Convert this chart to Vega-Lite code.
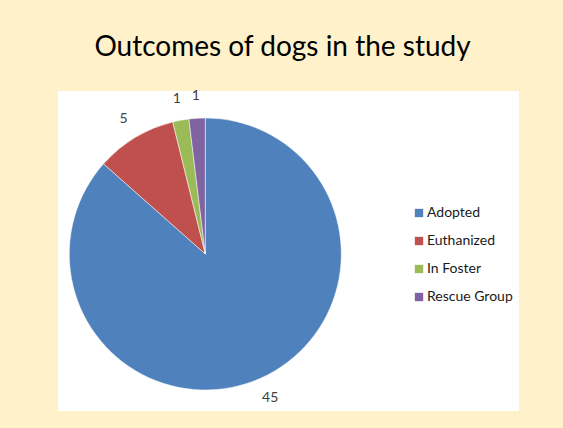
{
  "$schema": "https://vega.github.io/schema/vega-lite/v6.json",
  "width": 461,
  "height": 320,
  "autosize": "none",
  "padding": {"left": 58, "top": 91, "right": 44, "bottom": 17},
  "background": "#FFF1C9",
  "view": {"fill": "#ffffff", "stroke": null},
  "title": {
    "text": "Outcomes of dogs in the study",
    "font": "Lato",
    "fontSize": 28,
    "fontWeight": "normal",
    "color": "#000000",
    "anchor": "middle",
    "frame": "group",
    "offset": 27,
    "dx": -6
  },
  "data": {
    "values": [
      {"outcome": "Adopted", "count": 45},
      {"outcome": "Euthanized", "count": 5},
      {"outcome": "In Foster", "count": 1},
      {"outcome": "Rescue Group", "count": 1}
    ]
  },
  "encoding": {
    "theta": {"field": "count", "type": "quantitative", "stack": true},
    "order": {"field": "outcome", "type": "nominal", "sort": "ascending"}
  },
  "layer": [
    {
      "mark": {"type": "arc", "outerRadius": 136, "x": {"expr": "width * 0.3195"}, "y": {"expr": "height * 0.5 + 3"}, "stroke": "#ffffff", "strokeWidth": 0.5},
      "encoding": {
        "color": {
          "field": "outcome",
          "type": "nominal",
          "scale": {
            "domain": ["Adopted", "Euthanized", "In Foster", "Rescue Group"],
            "range": ["#4F81BD", "#C0504D", "#9BBB59", "#8064A2"]
          },
          "legend": {
            "title": null,
            "orient": "none",
            "legendX": 354,
            "legendY": 115,
            "symbolType": "square",
            "symbolSize": 70,
            "symbolStrokeWidth": 0,
            "labelFont": "Lato",
            "labelFontSize": 14,
            "labelColor": "#1a1a1a",
            "labelOffset": 1,
            "rowPadding": 14
          }
        }
      }
    },
    {
      "mark": {"type": "text", "radius": 158, "x": {"expr": "width * 0.3195"}, "y": {"expr": "height * 0.5 + 3"}, "font": "Lato", "fontSize": 14, "fill": "#404040"},
      "encoding": {
        "text": {"field": "count", "type": "quantitative"}
      }
    }
  ]
}
